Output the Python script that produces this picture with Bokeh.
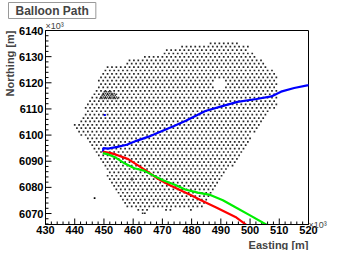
import numpy as np
from bokeh.plotting import figure
from bokeh.models import Range1d, FixedTicker, LinearAxis, Title
from bokeh.embed import file_html
from bokeh.resources import INLINE

# ---- data (km) ----
blue_x = [449.7, 449.8, 451.4, 454.6, 457.8, 461.1, 465.3, 469.7, 474.0, 478.2, 484.7, 490.2, 495.7, 502.2, 507.3, 510.6, 515.1, 520.0, 523.0]
blue_y = [6093.6, 6095.0, 6094.8, 6095.5, 6096.3, 6097.8, 6099.4, 6101.5, 6103.5, 6105.6, 6109.2, 6111.0, 6112.7, 6113.8, 6114.8, 6116.6, 6118.0, 6119.1, 6119.8]

red_x = [449.6, 452.0, 454.0, 458.3, 461.5, 464.7, 468.0, 472.4, 476.7, 479.5, 483.2, 488.6, 495.0, 498.8, 501.0]
red_y = [6093.6, 6093.2, 6092.6, 6090.8, 6088.5, 6086.2, 6083.6, 6080.9, 6078.6, 6077.2, 6075.1, 6072.2, 6068.7, 6065.6, 6064.2]

green_x = [449.6, 451.5, 454.0, 457.2, 460.4, 463.7, 467.0, 470.2, 474.5, 477.8, 482.1, 486.4, 490.7, 495.0, 500.0, 505.8, 508.0]
green_y = [6093.1, 6092.6, 6091.4, 6089.1, 6087.3, 6086.4, 6084.5, 6082.7, 6080.9, 6079.2, 6078.0, 6077.1, 6075.1, 6072.4, 6069.3, 6065.6, 6064.3]

# station array (1.5 km triangular grid): northern rows and outline of the rest
grid_spacing = 1.5
grid_top = 6135.1
grid_west = 440.0
top_rows_y = [6135.1, 6133.8, 6132.5, 6131.2, 6129.9, 6128.6, 6127.3, 6126.0, 6124.7]
top_rows_west = [487.0, 477.2, 471.7, 470.8, 464.3, 458.8, 457.7, 451.8, 450.2]
top_rows_east = [495.0, 498.8, 499.3, 500.9, 502.2, 503.8, 505.4, 505.7, 507.0]
array_outline_x = [450.0, 507.9, 509.6, 509.6, 500.9, 496.1, 491.6, 484.2, 458.2, 455.3, 453.6, 451.4, 450.8, 449.2, 447.1, 445.9, 444.6, 443.4, 440.9, 439.1, 439.9, 441.6, 443.2, 444.3, 445.9, 447.4, 448.0, 449.6]
array_outline_y = [6124.05, 6124.05, 6122.5, 6112.0, 6100.5, 6091.0, 6084.8, 6072.3, 6072.3, 6076.3, 6079.8, 6083.2, 6086.7, 6088.5, 6092.0, 6093.7, 6097.0, 6098.4, 6101.5, 6103.0, 6104.0, 6106.2, 6109.1, 6112.0, 6114.9, 6117.9, 6120.4, 6123.3]
hole_x = [489.5]
hole_y = [6119.4]
hole_r = [1.6]
extra_x = [461.75, 463.25, 464.75, 471.25, 472.75, 479.75, 463.25, 464.0]
extra_y = [6071.4, 6071.4, 6071.4, 6071.4, 6071.4, 6071.4, 6070.1, 6070.1]

# infill (750 m) patch
infill_x = [448.2, 454.9, 453.8, 452.3, 450.6, 449.2]
infill_y = [6113.8, 6113.8, 6116.0, 6117.0, 6117.0, 6116.0]

lone_x = [446.8]
lone_y = [6075.9]
blue_dot_x = [450.3]
blue_dot_y = [6107.7]
cross_x = [459.6]
cross_y = [6083.1]

x_start, x_end = 430, 520
y_start, y_end = 6065.8, 6140
x_major = [430, 440, 450, 460, 470, 480, 490, 500, 510, 520]
y_major = [6070, 6080, 6090, 6100, 6110, 6120, 6130, 6140]


def inside(px, py, vx, vy):
    vx = np.asarray(vx); vy = np.asarray(vy)
    res = np.zeros(px.shape, dtype=bool)
    n = len(vx)
    j = n - 1
    for i in range(n):
        xi, yi, xj, yj = vx[i], vy[i], vx[j], vy[j]
        cond = ((yi > py) != (yj > py)) & (px < (xj - xi) * (py - yi) / (yj - yi + 1e-12) + xi)
        res ^= cond
        j = i
    return res


def lattice(spacing, top, west, nrows, ncols):
    xs, ys = [], []
    dy = spacing * np.sqrt(3) / 2
    for k in range(nrows):
        y = top - k * dy
        off = (spacing / 2) * (k % 2)
        for j in range(ncols):
            xs.append(west + off + j * spacing)
            ys.append(y)
    return np.array(xs), np.array(ys)


gx, gy = lattice(grid_spacing, grid_top, grid_west, 52, 50)
m = inside(gx, gy, array_outline_x, array_outline_y)
for ry, rw, re in zip(top_rows_y, top_rows_west, top_rows_east):
    m |= (np.abs(gy - ry) < 0.3) & (gx > rw - 0.6) & (gx < re + 0.6)
for hx, hy, hr in zip(hole_x, hole_y, hole_r):
    m &= (gx - hx) ** 2 + (gy - hy) ** 2 > hr ** 2
gx, gy = gx[m], gy[m]
ix, iy = lattice(0.75, 6117.2, 447.5, 6, 12)
mi = inside(ix, iy, infill_x, infill_y)
ix, iy = ix[mi], iy[mi]

font = "Liberation Sans"
p = figure(width=329, height=250, x_range=Range1d(x_start, x_end), y_range=Range1d(y_start, y_end),
           output_backend="svg", toolbar_location=None,
           min_border_left=0, min_border_right=0, min_border_top=0, min_border_bottom=0,
           title=Title(text="Balloon Path", align="left", offset=-37, standoff=0,
                       text_font=font, text_font_style="bold", text_font_size="12px",
                       background_fill_color="white", border_line_color="#999999",
                       padding=dict(left=7, right=7, top=1, bottom=1)))
p.xgrid.visible = False
p.ygrid.visible = False
p.outline_line_color = "black"
p.outline_line_width = 1
p.background_fill_color = "white"
p.border_fill_color = "white"

for ax in (p.xaxis, p.yaxis):
    ax.major_tick_in = 0
    ax.major_tick_out = 0
    ax.minor_tick_in = 0
    ax.minor_tick_out = 0
    ax.axis_line_color = "black"
    ax.major_label_text_font = font
    ax.major_label_text_font_style = "bold"
    ax.major_label_text_font_size = "11px"
    ax.major_label_text_color = "black"
p.xaxis.ticker = FixedTicker(ticks=x_major)
p.yaxis.ticker = FixedTicker(ticks=y_major)
p.xaxis.major_label_standoff = 1
p.yaxis.major_label_standoff = 2

# axis titles (ROOT style: at the end of the axes)
p.add_layout(Title(text="Easting [m]", align="right", standoff=0, text_font=font, text_font_style="bold",
                   text_font_size="11px"), "below")
p.add_layout(Title(text="Northing [m]", align="right", standoff=2, text_font=font, text_font_style="bold",
                   text_font_size="11px"), "left")

# ×10³ exponents
p.add_layout(Title(text="×10³", align="left", standoff=0, text_font=font, text_font_style="normal",
                   text_font_size="9px"), "above")
p.add_layout(LinearAxis(axis_label="×10³", ticker=FixedTicker(ticks=[]), axis_line_color=None,
                        major_tick_in=0, major_tick_out=0, minor_tick_in=0, minor_tick_out=0,
                        major_tick_line_color=None, minor_tick_line_color=None,
                        major_label_text_font_size="0px", major_label_standoff=0,
                        axis_label_orientation="horizontal", axis_label_align="start",
                        axis_label_standoff=0, axis_label_text_font=font,
                        axis_label_text_font_style="normal", axis_label_text_font_size="9px"), "right")

# inward ticks (drawn at the axes, half clipped by the frame)
x_minor = [v for v in np.arange(x_start, x_end + 0.1, 2.0) if v not in x_major]
y_minor = [v for v in np.arange(6066, y_end + 0.1, 2.0) if v not in y_major]
p.scatter(x_major, [y_start] * len(x_major), marker="dash", angle=np.pi / 2, size=12, line_color="black", line_width=1)
p.scatter(x_minor, [y_start] * len(x_minor), marker="dash", angle=np.pi / 2, size=6, line_color="black", line_width=1)
p.scatter([x_start] * len(y_major), y_major, marker="dash", size=12, line_color="black", line_width=1)
p.scatter([x_start] * len(y_minor), y_minor, marker="dash", size=6, line_color="black", line_width=1)

# stations
p.scatter(gx, gy, marker="square", size=1.7, fill_color="black", line_color=None, fill_alpha=0.85)
p.scatter(ix, iy, marker="square", size=1.5, fill_color="black", line_color=None, fill_alpha=0.75)
p.scatter(extra_x, extra_y, marker="square", size=1.7, fill_color="black", line_color=None, fill_alpha=0.85)
p.scatter(lone_x, lone_y, marker="square", size=1.7, fill_color="black", line_color=None)
p.scatter(cross_x, cross_y, marker="cross", size=4, line_color="#444", line_width=1)
p.scatter(blue_dot_x, blue_dot_y, marker="square", size=2, fill_color="blue", line_color=None)

# paths
p.line(blue_x, blue_y, line_color="#0000ff", line_width=2.2)
p.line(red_x, red_y, line_color="#ff0000", line_width=2.2)
p.line(green_x, green_y, line_color="#00ee00", line_width=2.2)

open("out.html", "w").write(file_html(p, INLINE))
